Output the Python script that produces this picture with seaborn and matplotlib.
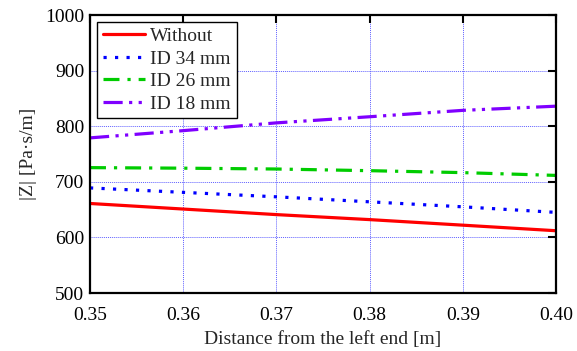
import numpy as np
import pandas as pd
import seaborn as sns
import matplotlib
matplotlib.use("Agg")
import matplotlib.pyplot as plt

x_pos = [0.35, 0.36, 0.37, 0.38, 0.39, 0.40]
without = [661, 651, 641, 632, 622, 612]
id34 = [689, 681, 673, 664, 655, 645]
id26 = [725.5, 724.5, 723, 720, 716.5, 711.5]
id18 = [779, 792, 806, 817, 828.5, 836]
labels = ["Without", "ID 34 mm", "ID 26 mm", "ID 18 mm"]
colors = ["#ff0000", "#0000ff", "#00cc00", "#7f00ff"]
styles = ["-", (0, (1, 2.6)), (0, (5, 2.5, 1, 2.5)), (0, (6, 2, 1, 2, 1, 2))]
xticks = [0.35, 0.36, 0.37, 0.38, 0.39, 0.40]
xticklabels = ["0.35", "0.36", "0.37", "0.38", "0.39", "0.40"]
yticks = [500, 600, 700, 800, 900, 1000]

sns.set_style("white")
plt.rcParams["font.family"] = ["Liberation Serif", "DejaVu Serif"]

fig = plt.figure(figsize=(5.77, 3.51), dpi=100)
ax = fig.add_axes([90/577, 1-293/351, (556-90)/577, (293-15)/351])

series = [without, id34, id26, id18]
for lab, ys, c, ls in zip(labels, series, colors, styles):
    df = pd.DataFrame({"x": x_pos, "y": ys})
    sns.lineplot(data=df, x="x", y="y", ax=ax, color=c, linestyle=ls,
                 linewidth=2.3, label=lab)

ax.set_xlim(0.35, 0.40)
ax.set_ylim(500, 1000)
ax.set_xticks(xticks)
ax.set_xticklabels(xticklabels)
ax.set_yticks(yticks)
ax.grid(True, color="#6060ff", linestyle=(0, (1, 1)), linewidth=0.7)
ax.tick_params(direction="in", length=6, width=1.5, top=True, right=True,
               labelsize=14, colors="black")
ax.tick_params(axis="x", pad=10)
ax.tick_params(axis="y", pad=4)
for sp in ax.spines.values():
    sp.set_linewidth(1.6)
    sp.set_color("black")
ax.set_xlabel("Distance from the left end [m]", fontsize=14, labelpad=5)
ax.set_ylabel("|Z| [Pa·s/m]", fontsize=14, labelpad=6)

leg = ax.legend(loc="upper left", fontsize=14, frameon=True, fancybox=False,
                edgecolor="black", framealpha=1, borderpad=0.3,
                labelspacing=0.25, handlelength=2.2, handletextpad=0.25,
                borderaxespad=0.35)
leg.get_frame().set_linewidth(1.0)

fig.savefig("out.png", dpi=100)
